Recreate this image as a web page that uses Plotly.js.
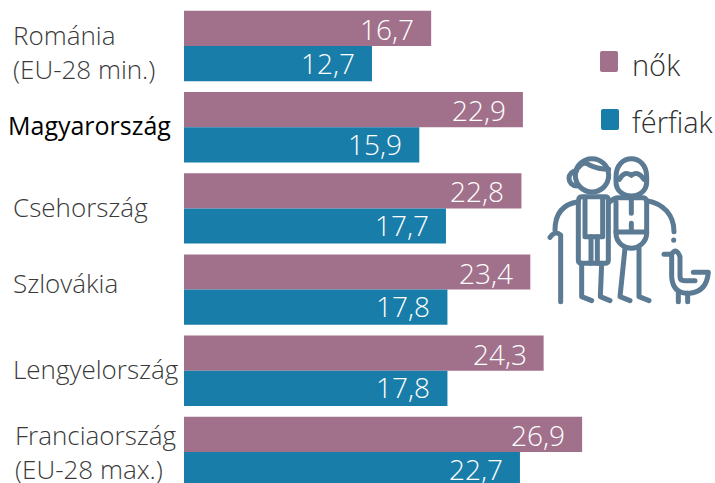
<!DOCTYPE html>
<html><head><meta charset="utf-8">
<script src="https://cdn.plot.ly/plotly-3.0.1.min.js"></script>
<style>html,body{margin:0;padding:0;background:#fff;overflow:hidden}#c{width:715px;height:483px}</style>
</head><body><div id="c"></div>
<script>
const categories = ["Románia<br>(EU-28 min.)","Magyarország","Csehország","Szlovákia","Lengyelország","Franciaország<br>(EU-28 max.)"];
const nok = [16.7,22.9,22.8,23.4,24.3,26.9];
const ferfiak = [12.7,15.9,17.7,17.8,17.8,22.7];
const seriesNames = ["nők","férfiak"];
const colors = ["#a1718b","#187da8"];

const W=715,H=483;
const px=(x)=>x/W, py=(y)=>1-y/H;
const FONT='"Open Sans", sans-serif';
const fmt=v=>v.toFixed(1).replace('.',',');
const ann=[];
function label(text,x,y,opts){ann.push(Object.assign({text:text,xref:'paper',yref:'paper',x:px(x-3),y:py(y-1.5),xanchor:'left',yanchor:'middle',showarrow:false,align:'left',
  font:{family:FONT,size:26,color:'#3a3a3a',weight:300}},opts||{}));}
label(categories[0],14,53);
label(categories[1],9,127,{font:{family:FONT,size:25,color:'#000000',weight:400}});
label(categories[2],14,208);
label(categories[3],14,284);
label(categories[4],14,370);
label(categories[5],16,453);
label(seriesNames[0],633,66,{font:{family:FONT,size:29,color:'#303030',weight:300}});
label(seriesNames[1],633,123,{font:{family:FONT,size:29,color:'#303030',weight:300}});
categories.forEach((c,i)=>{
  [[nok,17],[ferfiak,-16.6]].forEach(([arr,shift])=>{
    ann.push({text:fmt(arr[i]),x:arr[i],y:c,xref:'x',yref:'y',xanchor:'right',yanchor:'middle',xshift:-15,yshift:shift,showarrow:false,
      font:{family:FONT,size:28,color:'#ffffff',weight:300}});
  });
});
function rr(x0,y0,x1,y1,r){
  const X=px,Y=py;
  return `M${X(x0+r)},${Y(y0)}L${X(x1-r)},${Y(y0)}Q${X(x1)},${Y(y0)} ${X(x1)},${Y(y0+r)}L${X(x1)},${Y(y1-r)}Q${X(x1)},${Y(y1)} ${X(x1-r)},${Y(y1)}L${X(x0+r)},${Y(y1)}Q${X(x0)},${Y(y1)} ${X(x0)},${Y(y1-r)}L${X(x0)},${Y(y0+r)}Q${X(x0)},${Y(y0)} ${X(x0+r)},${Y(y0)}Z`;
}
const shapes=[
 {type:'path',xref:'paper',yref:'paper',path:rr(600,51,618,72,2),fillcolor:colors[0],line:{width:0}},
 {type:'path',xref:'paper',yref:'paper',path:rr(601,109,619,130,2),fillcolor:colors[1],line:{width:0}}
];
const icon=`<svg xmlns="http://www.w3.org/2000/svg" width="555" height="870" viewBox="0 0 555 870"><g fill="none" stroke="#5b7a93" stroke-width="15" stroke-linecap="round" stroke-linejoin="round">
<circle cx="186" cy="436" r="50"/><path d="M146 412Q160 392 178 405Q205 418 236 418"/><path d="M140 422A22 22 0 1 0 140 468"/>
<path d="M258 440C258 368 350 368 350 440V455C350 512 258 512 258 455Z"/><path d="M268 448Q285 420 304 436Q322 420 342 448"/>
<path d="M145 515Q145 500 155 500H225Q235 500 235 510V690Q235 700 225 700H155Q145 700 145 690Z"/><path d="M165 505V620H218V505"/><path d="M183 620V700M202 620V700"/>
<path d="M145 515C100 522 75 550 75 600"/><path d="M60 622Q75 600 92 615V815"/>
<path d="M155 700L155 800L185 812M215 700L211 800L240 812"/>
<path d="M240 515Q252 503 265 503H340Q348 503 350 515V610C350 640 320 655 305 655C285 655 258 640 258 610V515"/><path d="M304 510V550M304 580V605M258 606H350"/>
<path d="M285 655L270 800L300 812M327 655L327 800L357 812"/>
<path d="M350 512C400 520 432 555 432 605"/><path d="M431 630V631"/>
<path d="M402 673H425Q438 650 450 680V740Q450 752 465 752H495"/><path d="M425 673V740Q428 788 470 790H480Q530 785 535 727H490"/><path d="M445 790V815M473 790V815"/>
</g></svg>`;
const data=[
 {type:'bar',orientation:'h',name:seriesNames[0],y:categories,x:nok,marker:{color:colors[0]},hoverinfo:'x+y'},
 {type:'bar',orientation:'h',name:seriesNames[1],y:categories,x:ferfiak,marker:{color:colors[1]},hoverinfo:'x+y'}
];
const layout={
 width:W,height:H,margin:{l:0,r:0,t:0,b:0},showlegend:false,paper_bgcolor:'#fff',plot_bgcolor:'#fff',
 barmode:'group',bargap:0.133,bargroupgap:0,
 xaxis:{domain:[184/W,1],range:[0,531/14.8],visible:false,fixedrange:true},
 yaxis:{type:'category',categoryorder:'array',categoryarray:categories,range:[(483-46)/81.2,-46/81.2],visible:false,fixedrange:true},
 annotations:ann,shapes:shapes,
 images:[{source:'data:image/svg+xml;charset=utf-8,'+encodeURIComponent(icon),xref:'paper',yref:'paper',x:px(530),y:py(30),sizex:185/W,sizey:290/H,xanchor:'left',yanchor:'top',sizing:'stretch',layer:'above'}]
};
Plotly.newPlot('c',data,layout,{staticPlot:true,displayModeBar:false});
</script></body></html>
